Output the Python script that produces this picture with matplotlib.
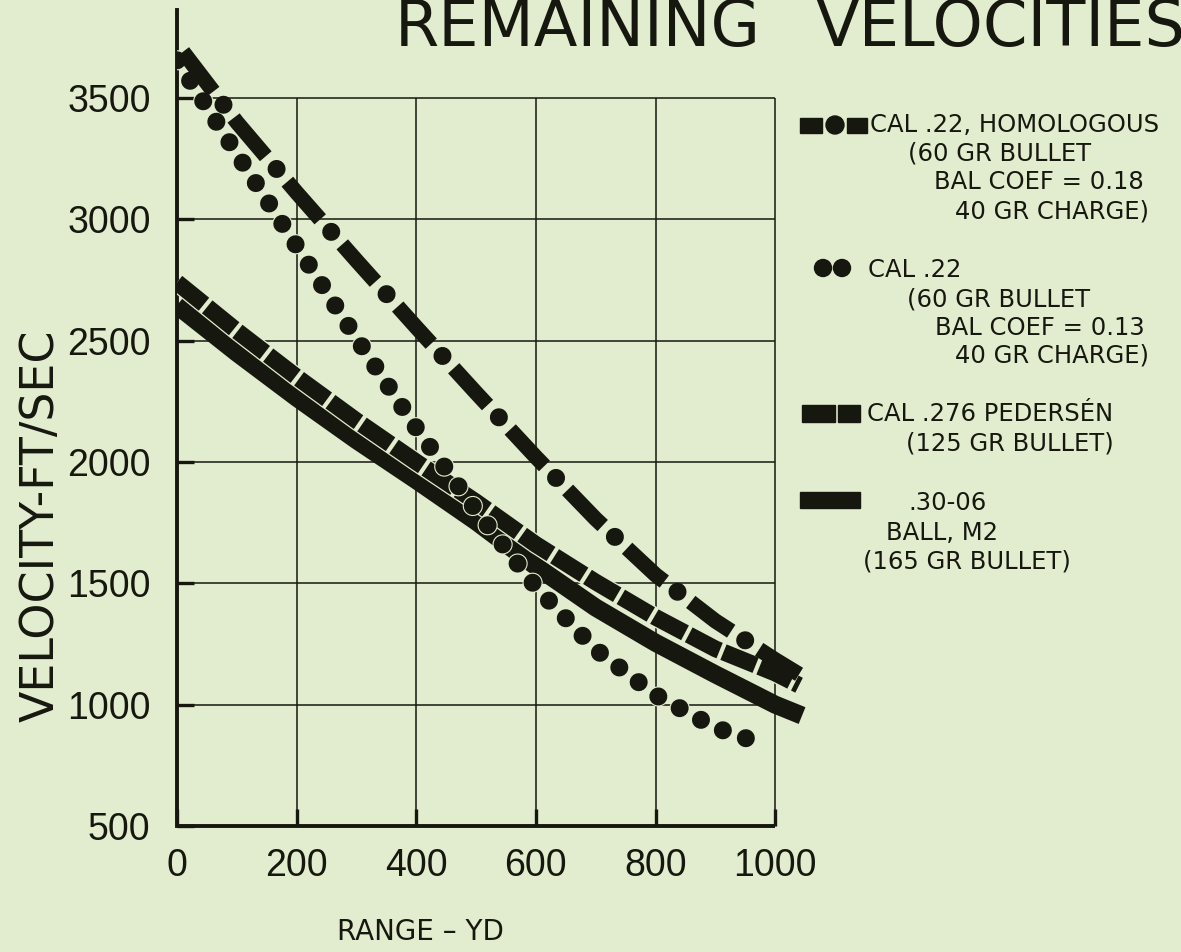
import matplotlib
matplotlib.use('Agg')
import matplotlib.pyplot as plt
from matplotlib.patches import Rectangle, Circle

plt.rcParams['lines.scale_dashes'] = False  # dash lengths in points

BG = '#e2ecce'
INK = '#16180f'
TICKFONT = ['Liberation Sans', 'DejaVu Sans']

# ---- data (range in yd, velocity in ft/sec) ----
x_ticks = [0, 200, 400, 600, 800, 1000]
y_ticks = [500, 1000, 1500, 2000, 2500, 3000, 3500]

# cal .22 homologous, bal coef 0.18  (dash - dot)
hom_yd = [10, 100, 200, 300, 400, 500, 600, 700, 800, 900, 1000, 1040]
hom_v = [3690, 3400, 3110, 2830, 2555, 2285, 2020, 1765, 1535, 1345, 1185, 1125]

# cal .22, bal coef 0.13  (dots)
c22_yd = [0, 100, 200, 300, 400, 500, 600, 700, 800, 900, 985]
c22_v = [3655, 3270, 2890, 2510, 2140, 1800, 1485, 1227, 1040, 905, 833]

# cal .276 pedersen  (heavy dashes)
ped_yd = [0, 100, 200, 300, 400, 500, 600, 700, 800, 900, 1000, 1040]
ped_v = [2740, 2540, 2350, 2170, 2000, 1835, 1660, 1505, 1360, 1230, 1130, 1080]

# .30-06 ball M2  (solid)
m2_yd = [0, 100, 200, 300, 400, 500, 600, 700, 800, 900, 1000, 1045]
m2_v = [2645, 2450, 2265, 2090, 1925, 1755, 1570, 1400, 1255, 1125, 1000, 955]

fig = plt.figure(figsize=(11.81, 9.52), dpi=100, facecolor=BG)
ax = fig.add_axes([177 / 1181, 1 - 826 / 952, 646 / 1181, 816 / 952])
ax.set_facecolor('none')
ax.set_xlim(0, 1080)
ax.set_ylim(500, 500 + 816 / 0.2427)

# grid, only inside the 0-1000 / 500-3500 box
ax.vlines(x_ticks[1:], 500, 3500, color=INK, lw=1.1, zorder=1)
ax.hlines(y_ticks[1:], 0, 1000, color=INK, lw=1.1, zorder=1)
ax.hlines(500, 0, 1000, color=INK, lw=2.8, zorder=1, clip_on=False)

for s in ['top', 'right', 'bottom']:
    ax.spines[s].set_visible(False)
ax.spines['left'].set_linewidth(2.8)
ax.spines['left'].set_color(INK)

# curves
ax.plot(m2_yd, m2_v, color=INK, lw=13, solid_capstyle='butt', zorder=2)
ax.plot(ped_yd, ped_v, color=BG, lw=13.8, solid_capstyle='butt', zorder=3)
ax.plot(ped_yd, ped_v, color=INK, lw=12, linestyle=(0, (25, 3)),
        dash_capstyle='butt', zorder=4)
ax.plot(c22_yd, c22_v, color=BG, lw=14.6, linestyle=(0, (0.01, 17.5)),
        dash_capstyle='round', zorder=5)
ax.plot(c22_yd, c22_v, color=INK, lw=13, linestyle=(0, (0.01, 17.5)),
        dash_capstyle='round', zorder=6)
ax.plot(hom_yd, hom_v, color=INK, lw=11, linestyle=(0, (36, 24)),
        dash_capstyle='butt', zorder=7)
ax.plot(hom_yd, hom_v, color=INK, lw=13, linestyle=(12, (0.01, 59.99)),
        dash_capstyle='round', zorder=7)

ax.set_xticks(x_ticks)
ax.set_xticklabels([str(t) for t in x_ticks])
ax.set_yticks(y_ticks)
ax.set_yticklabels([str(t) for t in y_ticks])
ax.tick_params(axis='both', direction='in', length=12, width=2.4, colors=INK,
               labelsize=27)
ax.tick_params(axis='y', pad=19)
ax.tick_params(axis='x', pad=16)
for lab in ax.get_xticklabels() + ax.get_yticklabels():
    lab.set_family(TICKFONT)

# ---- overlay in pixel coordinates for titles and legend ----
lay = fig.add_axes([0, 0, 1, 1])
lay.set_xlim(0, 1181)
lay.set_ylim(952, 0)
lay.set_facecolor('none')
lay.axis('off')

lay.text(395, 46, 'REMAINING', fontsize=46, color=INK, va='baseline', ha='left')
lay.text(815, 46, 'VELOCITIES', fontsize=46, color=INK, va='baseline', ha='left')
lay.text(41, 526, 'VELOCITY-FT/SEC', fontsize=33, color=INK, rotation=90,
         ha='center', va='center')
lay.text(420, 932, 'RANGE – YD', fontsize=20, color=INK, ha='center', va='center')

legend_lines = [
    (870, 125, 'CAL .22, HOMOLOGOUS'),
    (908, 154, '(60 GR BULLET'),
    (934, 182, 'BAL COEF = 0.18'),
    (955, 211, '40 GR CHARGE)'),
    (868, 270, 'CAL .22'),
    (907, 300, '(60 GR BULLET'),
    (935, 328, 'BAL COEF = 0.13'),
    (955, 355, '40 GR CHARGE)'),
    (867, 414, 'CAL .276 PEDERSÉN'),
    (906, 444, '(125 GR BULLET)'),
    (908, 503, '.30-06'),
    (886, 533, 'BALL, M2'),
    (863, 562, '(165 GR BULLET)'),
]
for lx, ly, txt in legend_lines:
    lay.text(lx, ly, txt, fontsize=17.5, color=INK, ha='left', va='center')

# legend glyphs
lay.add_patch(Rectangle((800, 118), 22, 15, color=INK))
lay.add_patch(Circle((835, 125), 9, color=INK))
lay.add_patch(Rectangle((847, 118), 20, 15, color=INK))
lay.add_patch(Circle((823, 268), 8.5, color=INK))
lay.add_patch(Circle((842, 268), 8.5, color=INK))
lay.add_patch(Rectangle((802, 405), 33, 17, color=INK))
lay.add_patch(Rectangle((838, 405), 22, 17, color=INK))
lay.add_patch(Rectangle((800, 492), 60, 16, color=INK))

fig.savefig('out.png', dpi=100, facecolor=BG)
